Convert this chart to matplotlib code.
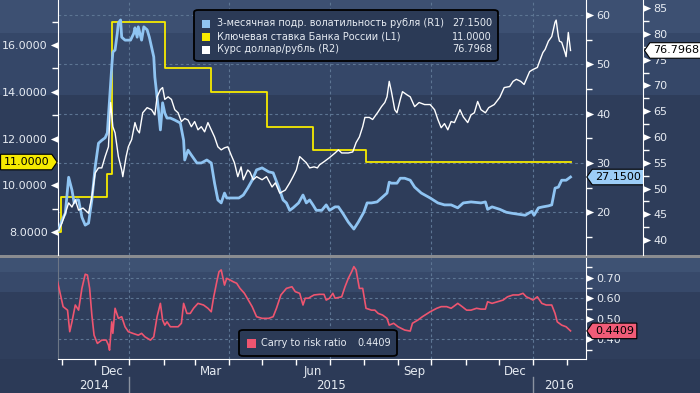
import matplotlib
matplotlib.use('Agg')
import matplotlib.pyplot as plt
import matplotlib.dates as mdates
import matplotlib.transforms as mtransforms
from matplotlib.patches import Rectangle, FancyBboxPatch
from matplotlib.path import Path
from matplotlib.ticker import FixedLocator, FuncFormatter
import pandas as pd

plt.rcParams['font.family'] = ['DejaVu Sans']

# ---- data ----
# key rate of the Bank of Russia (L1), step series
rate = [('2014-10-28', 8.0), ('2014-10-31', 9.5), ('2014-12-12', 10.5), ('2014-12-16', 17.0),
        ('2015-02-02', 15.0), ('2015-03-16', 14.0), ('2015-05-05', 12.5), ('2015-06-16', 11.5),
        ('2015-08-03', 11.0), ('2016-02-04', 11.0)]

# 3m implied vol of the rouble (R1)
vol = [('2014-10-29', 16.4), ('2014-11-01', 18.4), ('2014-11-04', 19.8), ('2014-11-07', 27.1),
       ('2014-11-10', 24.5), ('2014-11-12', 21.9), ('2014-11-14', 22.5), ('2014-11-16', 22.5),
       ('2014-11-19', 19.0), ('2014-11-22', 17.4), ('2014-11-25', 17.8), ('2014-11-28', 22.5),
       ('2014-12-01', 29.2), ('2014-12-04', 34.0), ('2014-12-07', 34.6), ('2014-12-10', 35.1),
       ('2014-12-12', 36.1), ('2014-12-14', 42.8), ('2014-12-16', 49.5), ('2014-12-17', 52.5),
       ('2014-12-19', 52.9), ('2014-12-21', 56.3), ('2014-12-22', 58.4), ('2014-12-24', 59.0),
       ('2014-12-25', 55.5), ('2014-12-28', 54.9), ('2015-01-02', 54.9), ('2015-01-05', 56.3),
       ('2015-01-06', 57.4), ('2015-01-08', 55.5), ('2015-01-09', 57.6), ('2015-01-12', 54.9),
       ('2015-01-14', 57.6), ('2015-01-17', 57.0), ('2015-01-19', 55.5), ('2015-01-23', 51.5),
       ('2015-01-24', 47.4), ('2015-01-26', 43.4), ('2015-01-27', 41.3), ('2015-01-29', 36.7),
       ('2015-01-31', 42.2), ('2015-02-02', 40.1), ('2015-02-04', 39.1), ('2015-02-07', 39.1),
       ('2015-02-11', 38.7), ('2015-02-16', 38.1), ('2015-02-19', 34.6), ('2015-02-20', 30.6),
       ('2015-02-23', 32.6), ('2015-02-26', 31.6), ('2015-03-03', 30.0), ('2015-03-07', 30.0),
       ('2015-03-12', 30.6), ('2015-03-16', 30.0), ('2015-03-19', 25.9), ('2015-03-22', 22.5),
       ('2015-03-25', 21.9), ('2015-03-28', 23.9), ('2015-03-30', 22.9), ('2015-04-04', 22.9),
       ('2015-04-10', 22.9), ('2015-04-14', 23.5), ('2015-04-18', 24.9), ('2015-04-22', 26.5),
       ('2015-04-26', 28.6), ('2015-05-01', 29.0), ('2015-05-07', 28.2), ('2015-05-11', 28.0),
       ('2015-05-16', 25.1), ('2015-05-20', 22.5), ('2015-05-23', 21.9), ('2015-05-26', 20.4),
       ('2015-05-29', 20.9), ('2015-06-03', 21.9), ('2015-06-07', 23.5), ('2015-06-10', 21.9),
       ('2015-06-13', 22.5), ('2015-06-16', 21.5), ('2015-06-19', 20.4), ('2015-06-24', 20.4),
       ('2015-06-28', 21.5), ('2015-07-01', 20.4), ('2015-07-06', 21.1), ('2015-07-09', 21.1),
       ('2015-07-13', 19.8), ('2015-07-18', 18.0), ('2015-07-23', 16.6), ('2015-07-27', 18.0),
       ('2015-08-01', 20.0), ('2015-08-04', 21.9), ('2015-08-08', 21.9), ('2015-08-13', 22.1),
       ('2015-08-17', 22.9), ('2015-08-22', 23.9), ('2015-08-24', 26.1), ('2015-08-26', 25.9),
       ('2015-08-31', 25.9), ('2015-09-03', 26.9), ('2015-09-07', 26.9), ('2015-09-12', 26.5),
       ('2015-09-16', 25.1), ('2015-09-22', 23.9), ('2015-09-30', 22.9), ('2015-10-07', 21.9),
       ('2015-10-13', 21.5), ('2015-10-19', 21.5), ('2015-10-25', 20.9), ('2015-10-30', 21.9),
       ('2015-11-06', 22.1), ('2015-11-15', 21.9), ('2015-11-19', 22.1), ('2015-11-21', 20.6),
       ('2015-11-25', 21.1), ('2015-12-02', 20.6), ('2015-12-08', 20.0), ('2015-12-13', 19.8),
       ('2015-12-19', 19.6), ('2015-12-25', 19.4), ('2015-12-28', 19.8), ('2015-12-31', 20.2),
       ('2016-01-02', 19.4), ('2016-01-06', 20.9), ('2016-01-10', 21.1), ('2016-01-15', 21.3),
       ('2016-01-18', 21.5), ('2016-01-21', 24.9), ('2016-01-24', 25.1), ('2016-01-27', 26.5),
       ('2016-01-31', 26.5), ('2016-02-04', 27.15)]

# USD/RUB (R2)
usd = [('2014-10-29', 41.9), ('2014-11-01', 43.3), ('2014-11-04', 45.2), ('2014-11-07', 47.2),
       ('2014-11-10', 46.4), ('2014-11-13', 47.8), ('2014-11-16', 45.8), ('2014-11-20', 46.2),
       ('2014-11-25', 45.2), ('2014-11-28', 48.4), ('2014-12-01', 53.0), ('2014-12-04', 54.0),
       ('2014-12-07', 54.0), ('2014-12-10', 56.2), ('2014-12-13', 58.1), ('2014-12-15', 66.7),
       ('2014-12-17', 62.0), ('2014-12-19', 60.8), ('2014-12-22', 56.2), ('2014-12-25', 53.6),
       ('2014-12-26', 52.3), ('2014-12-29', 56.2), ('2014-12-31', 58.1), ('2015-01-03', 59.5),
       ('2015-01-06', 62.8), ('2015-01-08', 61.4), ('2015-01-10', 60.8), ('2015-01-13', 64.7),
       ('2015-01-17', 65.7), ('2015-01-21', 65.3), ('2015-01-24', 64.3), ('2015-01-26', 67.8),
       ('2015-01-29', 69.2), ('2015-01-31', 69.6), ('2015-02-02', 67.3), ('2015-02-05', 67.8),
       ('2015-02-08', 67.3), ('2015-02-11', 65.3), ('2015-02-14', 64.7), ('2015-02-17', 63.0),
       ('2015-02-20', 63.6), ('2015-02-23', 63.3), ('2015-02-26', 62.0), ('2015-03-01', 63.0),
       ('2015-03-04', 61.4), ('2015-03-07', 62.0), ('2015-03-10', 61.0), ('2015-03-13', 62.8),
       ('2015-03-16', 61.4), ('2015-03-19', 60.0), ('2015-03-22', 58.1), ('2015-03-25', 57.5),
       ('2015-03-28', 57.9), ('2015-03-31', 58.1), ('2015-04-03', 56.5), ('2015-04-06', 55.0),
       ('2015-04-09', 52.3), ('2015-04-12', 54.2), ('2015-04-14', 51.7), ('2015-04-18', 53.6),
       ('2015-04-20', 53.2), ('2015-04-23', 51.7), ('2015-04-26', 52.3), ('2015-05-01', 51.7),
       ('2015-05-05', 52.3), ('2015-05-10', 50.3), ('2015-05-13', 51.1), ('2015-05-17', 49.1),
       ('2015-05-22', 49.7), ('2015-05-26', 51.1), ('2015-05-29', 52.3), ('2015-06-01', 53.6),
       ('2015-06-04', 56.2), ('2015-06-07', 55.6), ('2015-06-10', 55.0), ('2015-06-13', 54.0),
       ('2015-06-17', 54.2), ('2015-06-20', 54.0), ('2015-06-22', 54.6), ('2015-06-26', 55.2),
       ('2015-07-01', 56.0), ('2015-07-06', 56.9), ('2015-07-09', 57.5), ('2015-07-12', 56.9),
       ('2015-07-18', 56.9), ('2015-07-22', 57.1), ('2015-07-25', 58.9), ('2015-07-28', 60.0),
       ('2015-07-31', 62.0), ('2015-08-02', 63.8), ('2015-08-06', 63.8), ('2015-08-09', 63.4),
       ('2015-08-14', 64.9), ('2015-08-17', 65.9), ('2015-08-20', 66.7), ('2015-08-22', 67.8),
       ('2015-08-24', 70.8), ('2015-08-26', 68.8), ('2015-08-29', 65.3), ('2015-08-31', 64.7),
       ('2015-09-03', 67.3), ('2015-09-05', 68.8), ('2015-09-09', 68.2), ('2015-09-12', 67.8),
       ('2015-09-16', 65.9), ('2015-09-20', 66.7), ('2015-09-25', 66.3), ('2015-09-30', 66.3),
       ('2015-10-04', 65.3), ('2015-10-07', 63.4), ('2015-10-10', 61.8), ('2015-10-13', 62.6),
       ('2015-10-16', 61.4), ('2015-10-19', 63.0), ('2015-10-22', 62.8), ('2015-10-27', 65.3),
       ('2015-10-30', 63.9), ('2015-11-03', 62.8), ('2015-11-06', 64.3), ('2015-11-09', 64.7),
       ('2015-11-12', 66.9), ('2015-11-15', 65.3), ('2015-11-19', 64.7), ('2015-11-22', 65.7),
       ('2015-11-27', 66.3), ('2015-12-02', 67.7), ('2015-12-06', 69.6), ('2015-12-11', 69.8),
       ('2015-12-14', 70.8), ('2015-12-17', 71.2), ('2015-12-21', 70.8), ('2015-12-24', 70.2),
       ('2015-12-26', 71.2), ('2015-12-29', 72.7), ('2016-01-01', 73.1), ('2016-01-05', 73.5),
       ('2016-01-07', 74.7), ('2016-01-10', 76.4), ('2016-01-12', 77.0), ('2016-01-15', 78.6),
       ('2016-01-18', 79.5), ('2016-01-21', 82.3), ('2016-01-22', 82.7), ('2016-01-24', 79.5),
       ('2016-01-25', 78.6), ('2016-01-27', 78.4), ('2016-01-30', 76.4), ('2016-01-31', 75.6),
       ('2016-02-02', 80.3), ('2016-02-04', 76.8)]

# carry to risk ratio (lower panel)
carry = [('2014-10-28', 0.680), ('2014-10-30', 0.632), ('2014-11-02', 0.559), ('2014-11-06', 0.542),
         ('2014-11-08', 0.437), ('2014-11-10', 0.485), ('2014-11-13', 0.567), ('2014-11-16', 0.542),
         ('2014-11-19', 0.648), ('2014-11-22', 0.717), ('2014-11-24', 0.713), ('2014-11-26', 0.648),
         ('2014-11-28', 0.518), ('2014-11-30', 0.420), ('2014-12-03', 0.380), ('2014-12-07', 0.396),
         ('2014-12-11', 0.396), ('2014-12-13', 0.372), ('2014-12-14', 0.347), ('2014-12-16', 0.485),
         ('2014-12-17', 0.429), ('2014-12-19', 0.551), ('2014-12-22', 0.502), ('2014-12-25', 0.510),
         ('2014-12-28', 0.461), ('2014-12-31', 0.437), ('2015-01-04', 0.429), ('2015-01-09', 0.420),
         ('2015-01-12', 0.429), ('2015-01-15', 0.412), ('2015-01-20', 0.396), ('2015-01-23', 0.412),
         ('2015-01-26', 0.510), ('2015-01-29', 0.575), ('2015-01-31', 0.494), ('2015-02-02', 0.469),
         ('2015-02-04', 0.485), ('2015-02-07', 0.461), ('2015-02-14', 0.461), ('2015-02-17', 0.478),
         ('2015-02-19', 0.575), ('2015-02-22', 0.526), ('2015-02-25', 0.526), ('2015-02-28', 0.551),
         ('2015-03-04', 0.575), ('2015-03-09', 0.567), ('2015-03-13', 0.551), ('2015-03-16', 0.534),
         ('2015-03-18', 0.600), ('2015-03-21', 0.680), ('2015-03-23', 0.729), ('2015-03-25', 0.738),
         ('2015-03-26', 0.713), ('2015-03-28', 0.664), ('2015-03-30', 0.697), ('2015-04-02', 0.689),
         ('2015-04-05', 0.680), ('2015-04-08', 0.673), ('2015-04-11', 0.648), ('2015-04-15', 0.624),
         ('2015-04-22', 0.559), ('2015-04-26', 0.510), ('2015-05-01', 0.502), ('2015-05-07', 0.502),
         ('2015-05-11', 0.510), ('2015-05-14', 0.551), ('2015-05-18', 0.616), ('2015-05-23', 0.648),
         ('2015-05-28', 0.656), ('2015-05-31', 0.632), ('2015-06-04', 0.624), ('2015-06-07', 0.567),
         ('2015-06-09', 0.600), ('2015-06-12', 0.600), ('2015-06-14', 0.607), ('2015-06-17', 0.616),
         ('2015-06-22', 0.619), ('2015-06-26', 0.619), ('2015-06-28', 0.591), ('2015-07-01', 0.600),
         ('2015-07-04', 0.624), ('2015-07-06', 0.600), ('2015-07-12', 0.607), ('2015-07-15', 0.656),
         ('2015-07-18', 0.697), ('2015-07-21', 0.729), ('2015-07-23', 0.754), ('2015-07-25', 0.738),
         ('2015-07-28', 0.648), ('2015-07-31', 0.648), ('2015-08-03', 0.551), ('2015-08-08', 0.542),
         ('2015-08-11', 0.542), ('2015-08-14', 0.526), ('2015-08-18', 0.518), ('2015-08-22', 0.502),
         ('2015-08-24', 0.469), ('2015-08-28', 0.478), ('2015-09-01', 0.461), ('2015-09-07', 0.445),
         ('2015-09-12', 0.440), ('2015-09-14', 0.478), ('2015-09-19', 0.494), ('2015-09-23', 0.510),
         ('2015-09-30', 0.534), ('2015-10-06', 0.551), ('2015-10-10', 0.559), ('2015-10-15', 0.559),
         ('2015-10-19', 0.551), ('2015-10-25', 0.575), ('2015-10-29', 0.559), ('2015-11-02', 0.542),
         ('2015-11-06', 0.542), ('2015-11-11', 0.551), ('2015-11-15', 0.547), ('2015-11-19', 0.547),
         ('2015-11-21', 0.583), ('2015-11-25', 0.575), ('2015-11-30', 0.583), ('2015-12-05', 0.591),
         ('2015-12-09', 0.607), ('2015-12-14', 0.616), ('2015-12-19', 0.616), ('2015-12-23', 0.624),
         ('2015-12-26', 0.607), ('2015-12-29', 0.600), ('2016-01-01', 0.591), ('2016-01-05', 0.607),
         ('2016-01-09', 0.575), ('2016-01-13', 0.567), ('2016-01-18', 0.567), ('2016-01-21', 0.526),
         ('2016-01-23', 0.485), ('2016-01-27', 0.469), ('2016-01-31', 0.461), ('2016-02-04', 0.4409)]

top_names = ['3-месячная подр. волатильность рубля (R1)', 'Ключевая ставка Банка России (L1)',
             'Курс доллар/рубль (R2)']
top_last = ['27.1500', '11.0000', '76.7968']
bottom_name = 'Carry to risk ratio'
bottom_last = '0.4409'

l1_ticks = [8, 10, 12, 14, 16]
r1_ticks = [20, 30, 40, 50, 60]
r2_ticks = [40, 45, 50, 55, 60, 65, 70, 75, 80, 85]
c_ticks = [0.4, 0.5, 0.6, 0.7]
grid_dates = ['2015-01-01', '2015-04-01', '2015-07-01', '2015-10-01', '2016-01-01']
years = [2014, 2015, 2016]

BLUE = '#8fc4f2'
YELLOW = '#f6ea00'
RED = '#ee5570'
TXT = '#e6ebf2'
GRID = '#5d7593'


def split(pairs):
    return pd.to_datetime([p[0] for p in pairs]), [p[1] for p in pairs]


W, H = 700, 393
fig = plt.figure(figsize=(W / 100, H / 100), dpi=100, facecolor='#2c3a57')


def band(y0, y1, color):
    fig.patches.append(Rectangle((0, 1 - y1 / H), 1, (y1 - y0) / H, transform=fig.transFigure,
                                 color=color, zorder=-5, lw=0))


band(0, 33, '#3d5072')
band(33, 95, '#354768')
band(95, 255, '#2e3d5a')
band(258, 272, '#3e5273')
band(272, 292, '#37496a')
band(292, 359, '#2f3e5c')
band(255, 258, '#8a8c90')

ax1 = fig.add_axes([58 / W, 1 - 255 / H, 528 / W, 255 / H])
ax4 = fig.add_axes([58 / W, 1 - 359 / H, 528 / W, 101 / H], sharex=ax1)
ax2 = ax1.twinx()
ax3 = ax1.twinx()
for a in (ax1, ax2, ax3, ax4):
    a.set_facecolor('none')
    for s in a.spines.values():
        s.set_visible(False)

xmin, xmax = pd.Timestamp('2014-10-28 09:00'), pd.Timestamp('2016-02-18 00:00')
ax1.set_xlim(xmin, xmax)
ax1.set_ylim(7.03, 17.92)
ax2.set_ylim(11.34, 63.04)
ax3.set_ylim(37.09, 86.6)
ax4.set_ylim(0.304, 0.796)

# grids (drawn under the lines)
gtr = mtransforms.blended_transform_factory(ax1.transAxes, ax2.transData)
for v in r1_ticks:
    ax1.plot([0, 1], [v, v], transform=gtr, color=GRID, lw=0.8, ls=(0, (2.5, 2.5)), zorder=0.5)
for d in pd.to_datetime(grid_dates):
    ax1.axvline(d, color=GRID, lw=0.8, ls=(0, (2.5, 2.5)), zorder=0.5)
    ax4.axvline(d, color=GRID, lw=0.8, ls=(0, (2.5, 2.5)), zorder=0.5)
for v in c_ticks:
    ax4.axhline(v, color=GRID, lw=0.8, ls=(0, (2.5, 2.5)), zorder=0.5)

# series
d, v = split(rate)
ax1.plot(d, v, color=YELLOW, lw=1.3, drawstyle='steps-post', zorder=3)
d, v = split(vol)
ax2.plot(d, v, color=BLUE, lw=2.0, zorder=3)
d, v = split(usd)
ax3.plot(d, v, color='white', lw=1.0, zorder=3)
d, v = split(carry)
ax4.plot(d, v, color=RED, lw=1.2, zorder=3)

# spines
ax1.spines['left'].set_visible(True)
ax1.spines['left'].set_color('white')
ax2.spines['right'].set_visible(True)
ax2.spines['right'].set_color('white')
ax3.spines['right'].set_visible(True)
ax3.spines['right'].set_color('white')
ax3.spines['right'].set_position(('outward', 57 * 0.72))
ax4.spines['left'].set_visible(True)
ax4.spines['left'].set_color('#6c7686')
ax4.spines['right'].set_visible(True)
ax4.spines['right'].set_color('white')
ax4.spines['bottom'].set_visible(True)
ax4.spines['bottom'].set_color('white')

# y ticks
ax1.yaxis.set_major_locator(FixedLocator(l1_ticks))
ax1.yaxis.set_minor_locator(FixedLocator([9, 11, 13, 15, 17]))
ax1.yaxis.set_major_formatter(FuncFormatter(lambda x, p: f'{x:.4f}'))
ax2.yaxis.set_major_locator(FixedLocator(r1_ticks))
ax2.yaxis.set_minor_locator(FixedLocator([15, 25, 35, 45, 55]))
ax3.yaxis.set_major_locator(FixedLocator(r2_ticks))
ax3.yaxis.set_minor_locator(FixedLocator([x + 2.5 for x in r2_ticks]))
ax4.yaxis.tick_right()
ax4.yaxis.set_major_locator(FixedLocator(c_ticks))
ax4.yaxis.set_minor_locator(FixedLocator([0.35, 0.45, 0.55, 0.65, 0.75]))
ax4.yaxis.set_major_formatter(FuncFormatter(lambda x, p: f'{x:.2f}'))
for a in (ax1, ax2, ax3, ax4):
    a.tick_params(axis='y', which='major', length=0, pad=7.5, labelsize=8, labelcolor=TXT)
    a.tick_params(axis='y', which='minor', length=4, width=1, color='white', direction='out')

# arrow-shaped major ticks
TRI_L = [(0, -0.45), (0, 0.45), (-1, 0), (0, -0.45)]
TRI_R = [(0, -0.45), (0, 0.45), (1, 0), (0, -0.45)]


def arrows(ax, vals, xpos, verts):
    tr = mtransforms.blended_transform_factory(ax.transAxes, ax.transData)
    ax.plot([xpos] * len(vals), vals, ls='none', marker=verts, ms=11, color='white',
            mec='none', transform=tr, clip_on=False, zorder=6)


arrows(ax1, l1_ticks, 0, TRI_L)
arrows(ax2, r1_ticks, 1, TRI_R)
arrows(ax3, r2_ticks, 1 + 57 / 528, TRI_R)
arrows(ax4, c_ticks, 1, TRI_R)

# x axis
ax4.xaxis.set_major_locator(mdates.MonthLocator())
ax4.xaxis.set_major_formatter(FuncFormatter(lambda x, p: ''))
ax4.xaxis.set_minor_locator(mdates.MonthLocator(bymonthday=16))
ax4.xaxis.set_minor_formatter(FuncFormatter(
    lambda x, p: mdates.num2date(x).strftime('%b') if mdates.num2date(x).month in (3, 6, 9, 12) else ''))
ax4.tick_params(axis='x', which='major', length=4, width=1, color='white', direction='out')
ax4.tick_params(axis='x', which='minor', length=0, pad=4, labelsize=8.5, labelcolor=TXT)
ax1.tick_params(axis='x', which='both', length=0, labelbottom=False)

xtr = mtransforms.blended_transform_factory(ax4.transData, ax4.transAxes)
lo, hi = mdates.date2num(xmin), mdates.date2num(xmax)
for y in years:
    a = max(lo, mdates.date2num(pd.Timestamp(f'{y}-01-01')))
    b = min(hi, mdates.date2num(pd.Timestamp(f'{y + 1}-01-01')))
    ax4.text((a + b) / 2, -0.26, str(y), transform=xtr, ha='center', va='center',
             fontsize=8.5, color=TXT)
    if y > years[0]:
        ax4.plot([a, a], [-0.175, -0.34], transform=xtr, color='#8a92a0', lw=1, clip_on=False)


# value tags on the axes
def tag_left(x0, y0, width, height, mutation_size):
    pad = 0.25 * mutation_size
    x0, y0, w, h = x0 - pad, y0 - pad, width + 2 * pad, height + 2 * pad
    t = 0.35 * h
    return Path([(x0 - t, y0 + h / 2), (x0, y0 + h), (x0 + w, y0 + h), (x0 + w, y0), (x0, y0),
                 (x0 - t, y0 + h / 2)], closed=True)


def tag_right(x0, y0, width, height, mutation_size):
    pad = 0.25 * mutation_size
    x0, y0, w, h = x0 - pad, y0 - pad, width + 2 * pad, height + 2 * pad
    t = 0.35 * h
    return Path([(x0 + w + t, y0 + h / 2), (x0 + w, y0), (x0, y0), (x0, y0 + h), (x0 + w, y0 + h),
                 (x0 + w + t, y0 + h / 2)], closed=True)


def tag(ax, xpos, val, text, dx, fc, style, ha):
    tr = mtransforms.blended_transform_factory(ax.transAxes, ax.transData)
    ax.annotate(text, xy=(xpos, val), xycoords=tr, xytext=(dx, 0), textcoords='offset points',
                ha=ha, va='center', fontsize=8, color='black', zorder=20, annotation_clip=False,
                bbox=dict(boxstyle=style, fc=fc, ec='black', lw=0.8))


tag(ax1, 0, rate[-1][1], top_last[1], -6.5, YELLOW, tag_right, 'right')
tag(ax2, 1, vol[-1][1], top_last[0], 6.5, '#9ccdf7', tag_left, 'left')
tag(ax3, 1, usd[-1][1], top_last[2], 48, 'white', tag_left, 'left')
tag(ax4, 1, carry[-1][1], bottom_last, 6.5, '#f25c78', tag_left, 'left')


# legends
def fx(x):
    return x / W


def fy(y):
    return 1 - y / H


LEG_FS = 7.0
fig.patches.append(FancyBboxPatch((fx(194), fy(61)), fx(304), 51 / H, transform=fig.transFigure,
                                  boxstyle='round,pad=0,rounding_size=0.006', fc='#2b3a56',
                                  ec='black', lw=1.3, zorder=10))
for i, (name, last, col) in enumerate(zip(top_names, top_last, [BLUE, YELLOW, 'white'])):
    yc = 23.5 + 13 * i
    fig.patches.append(Rectangle((fx(202), fy(yc + 4)), fx(8), 8 / H, transform=fig.transFigure,
                                 color=col, zorder=11, lw=0))
    fig.text(fx(217), fy(yc), name, ha='left', va='center', fontsize=LEG_FS, color=TXT, zorder=12)
    fig.text(fx(492), fy(yc), last, ha='right', va='center', fontsize=LEG_FS, color=TXT, zorder=12)

fig.patches.append(FancyBboxPatch((fx(239), fy(356)), fx(158), 26 / H, transform=fig.transFigure,
                                  boxstyle='round,pad=0,rounding_size=0.006', fc='#2b3a56',
                                  ec='black', lw=1.3, zorder=10))
fig.patches.append(Rectangle((fx(247), fy(348)), fx(9), 9 / H, transform=fig.transFigure,
                             color=RED, zorder=11, lw=0))
fig.text(fx(261), fy(343.5), bottom_name, ha='left', va='center', fontsize=LEG_FS, color=TXT, zorder=12)
fig.text(fx(391), fy(343.5), bottom_last, ha='right', va='center', fontsize=LEG_FS, color=TXT, zorder=12)

fig.savefig('out.png', dpi=100, facecolor=fig.get_facecolor())
